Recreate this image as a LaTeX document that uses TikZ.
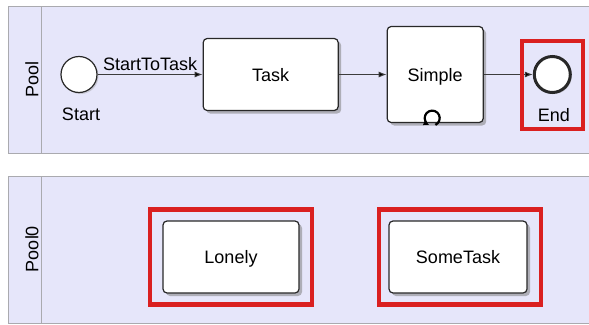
\documentclass[tikz,border=0pt]{standalone}
\usepackage{fontspec}
\setmainfont{Liberation Sans}
\usetikzlibrary{positioning}
\usetikzlibrary{fit}
\usetikzlibrary{shadows}
\usetikzlibrary{arrows.meta}
\definecolor{poolfill}{RGB}{230,230,250}
\definecolor{poolline}{RGB}{170,170,175}
\definecolor{taskline}{RGB}{40,40,40}
\definecolor{flowline}{RGB}{60,60,60}
\definecolor{hlred}{RGB}{218,32,32}

\begin{document}
\begin{tikzpicture}[x=1pt, y=-1pt,
			font=\fontsize{18}{21}\selectfont,
			pool/.style={draw=poolline, fill=poolfill, line width=0.9pt,
				anchor=north west, minimum width=620pt, minimum height=147pt},
			task/.style={draw=taskline, fill=white, rounded corners=4pt, line width=1.2pt, text depth=0pt,
				drop shadow={shadow xshift=3pt, shadow yshift=-3pt, fill=black!50, opacity=0.55}},
			event/.style={circle, draw=taskline, fill=white, line width=1.2pt,
				minimum size=36pt, inner sep=0pt,
				drop shadow={shadow xshift=1.5pt, shadow yshift=-1.5pt, fill=black!40, opacity=0.4}},
			highlight/.style={draw=hlred, line width=4.5pt},
			flow/.style={draw=flowline, line width=0.9pt, -{Latex[length=8pt, width=6pt]}}]
			\useasboundingbox (0,0) rectangle (589,324);
			\clip (0,0) rectangle (589,324);
			% pools
			\node [pool] (pool) at (8,6) {};
			\node [pool] (pool0) at (8,176) {};
			\draw [poolline, line width=0.9pt] ([xshift=33pt]pool.north west) -- ([xshift=33pt]pool.south west);
			\draw [poolline, line width=0.9pt] ([xshift=33pt]pool0.north west) -- ([xshift=33pt]pool0.south west);
			\node [rotate=90] (poollabel) at (32,79.5) {Pool};
			\node [rotate=90] (pool0label) at (32,249) {Pool0};
			% first pool
			\node [event] (start) at (79,74.5) {};
			\node [below=15pt of start, xshift=2pt, inner sep=0pt] (startlabel) {Start};
			\node [task, minimum width=135pt, minimum height=72pt, right=105pt of start] (task) {Task};
			\node [task, minimum width=96pt, minimum height=96pt, right=47.8pt of task] (simple) {Simple};
			\node [event, line width=3pt, right=49pt of simple] (endev) {};
			\node [below=14.5pt of endev, xshift=1.5pt, inner sep=0pt] (endlabel) {End};
			\coordinate [xshift=-3pt, yshift=5pt] (loopc) at (simple.south);
			\draw [black, line width=2.2pt, -{Latex[length=5.5pt, width=6pt]}]
				(loopc) ++(65:7.5) arc[start angle=65, end angle=-245, radius=7.5];
			\path [flow]
				(start) edge node [above] {StartToTask} (task)
				(task) edge [] (simple)
				(simple) edge [] (endev);
			% second pool
			\node [task, minimum width=136pt, minimum height=72pt] (lonely) at (231,257) {Lonely};
			\node [task, minimum width=138pt, minimum height=72pt] (sometask) at (458,257) {SomeTask};
			% red frames
			\node [highlight, inner xsep=12.5pt, inner ysep=11pt, fit=(lonely)] (lonelyframe) {};
			\node [highlight, inner xsep=11.5pt, inner ysep=11pt, xshift=2pt, fit=(sometask)] (sometaskframe) {};
			\node [highlight, inner xsep=11pt, inner ysep=10.5pt, yshift=3.5pt, fit=(endev) (endlabel)] (endframe) {};
		\end{tikzpicture}
\end{document}
